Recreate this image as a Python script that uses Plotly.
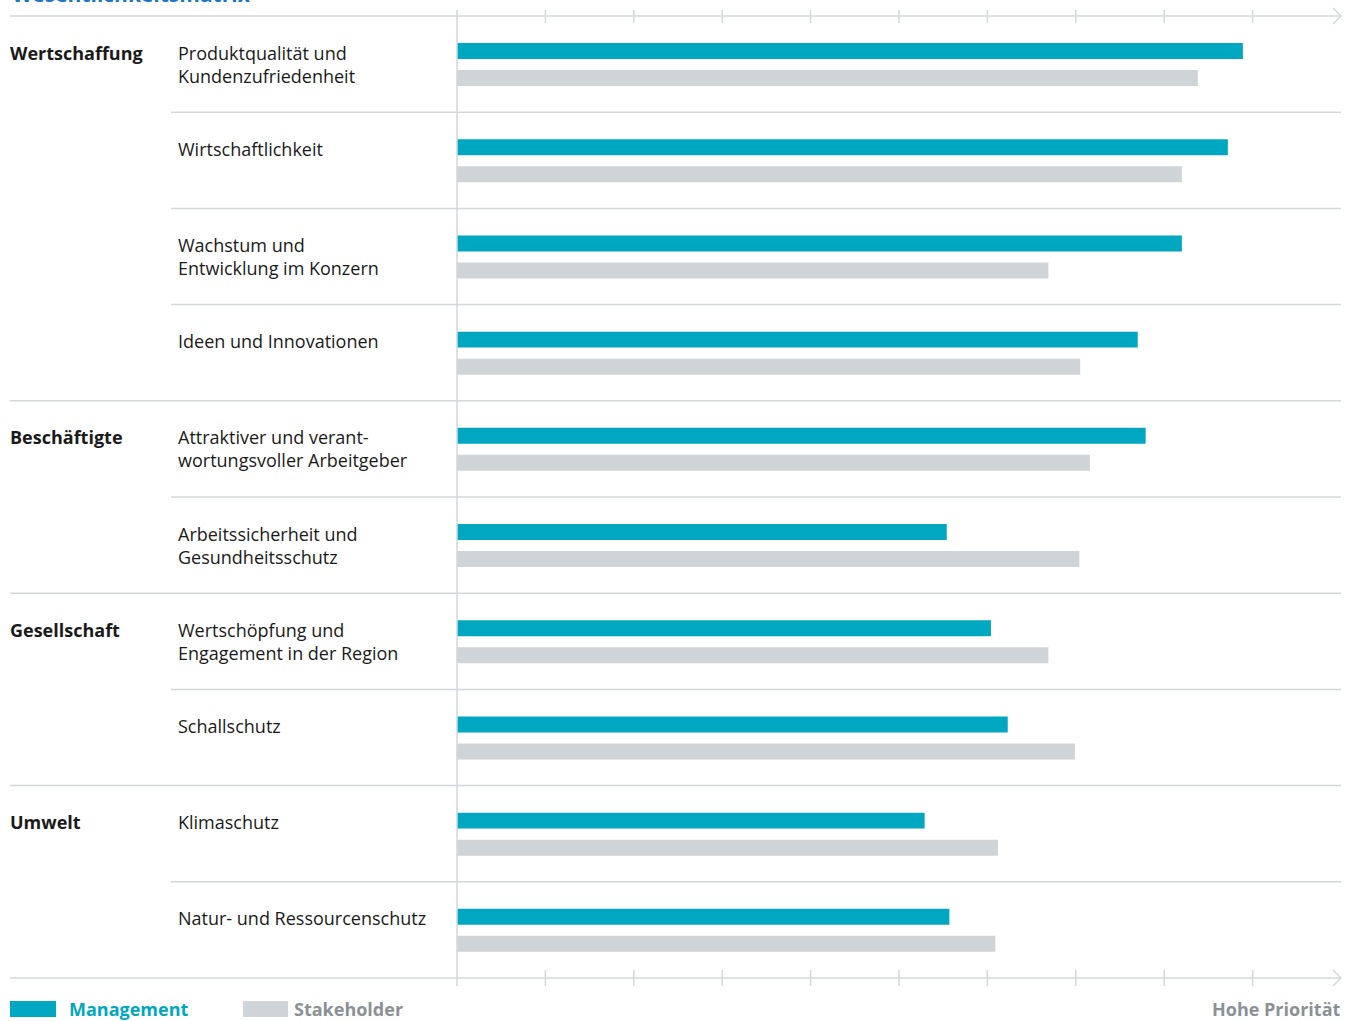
import plotly.graph_objects as go

# ---------------- data ----------------
groups = ["Wertschaffung", "Beschäftigte", "Gesellschaft", "Umwelt"]
group_start_rows = [0, 4, 6, 8]
topics = [
    "Produktqualität und<br>Kundenzufriedenheit",
    "Wirtschaftlichkeit",
    "Wachstum und<br>Entwicklung im Konzern",
    "Ideen und Innovationen",
    "Attraktiver und verant-<br>wortungsvoller Arbeitgeber",
    "Arbeitssicherheit und<br>Gesundheitsschutz",
    "Wertschöpfung und<br>Engagement in der Region",
    "Schallschutz",
    "Klimaschutz",
    "Natur- und Ressourcenschutz",
]
management = [8.89, 8.72, 8.20, 7.70, 7.79, 5.54, 6.04, 6.23, 5.29, 5.57]
stakeholder = [8.38, 8.20, 6.69, 7.05, 7.16, 7.04, 6.69, 6.99, 6.12, 6.09]
tick_values = [1, 2, 3, 4, 5, 6, 7, 8, 9]
title_text = "Wesentlichkeitsmatrix"
legend_labels = ["Management", "Stakeholder"]
axis_label = "Hohe Priorität"

# ---------------- style ----------------
TEAL = "#00a7c0"
GREY_BAR = "#cfd4d8"
LINE = "#d3d7db"
GREY_TXT = "#8a9196"
BLUE = "#1a76c8"
FONT = "Open Sans"

W, H = 1357, 1021
L, R, T, B = 457, 16, 16, 43
PW, PH = W - L - R, H - T - B
n = len(topics)


def px_x(px):
    return (px - L) / PW


def px_y(py):
    return 1 - (py - T) / PH


rows = list(range(n))
fig = go.Figure()
fig.add_trace(go.Bar(
    x=management, y=[r + 0.364 for r in rows], orientation="h",
    width=0.166, marker=dict(color=TEAL, line=dict(width=0)),
    name=legend_labels[0], showlegend=False, hoverinfo="x"))
fig.add_trace(go.Bar(
    x=stakeholder, y=[r + 0.645 for r in rows], orientation="h",
    width=0.166, marker=dict(color=GREY_BAR, line=dict(width=0)),
    name=legend_labels[1], showlegend=False, hoverinfo="x"))

shapes = []
# axis lines top & bottom
for ypx in (T, T + PH):
    shapes.append(dict(type="line", xref="paper", yref="paper",
                       x0=px_x(10), x1=px_x(1341), y0=px_y(ypx), y1=px_y(ypx),
                       line=dict(color=LINE, width=1.5)))
    # arrow chevron
    shapes.append(dict(type="path", xref="paper", yref="paper",
                       path=f"M {px_x(1333)} {px_y(ypx-8)} L {px_x(1341)} {px_y(ypx)} L {px_x(1333)} {px_y(ypx+8)}",
                       line=dict(color=LINE, width=1.5)))
# ticks
for tv in tick_values:
    shapes.append(dict(type="line", xref="x", yref="paper", x0=tv, x1=tv,
                       y0=px_y(T - 6), y1=px_y(T + 7),
                       line=dict(color=LINE, width=1.5)))
    shapes.append(dict(type="line", xref="x", yref="paper", x0=tv, x1=tv,
                       y0=px_y(T + PH - 8), y1=px_y(T + PH + 8),
                       line=dict(color=LINE, width=1.5)))
# vertical zero line
shapes.append(dict(type="line", xref="paper", yref="paper", x0=0, x1=0,
                   y0=px_y(10), y1=px_y(T + PH + 8),
                   line=dict(color=LINE, width=1.5)))
# row separators
for k in range(1, n):
    start = px_x(10) if k in group_start_rows else px_x(171)
    shapes.append(dict(type="line", xref="paper", yref="paper",
                       x0=start, x1=px_x(1341), y0=1 - k / n, y1=1 - k / n,
                       line=dict(color=LINE, width=1.5)))
# legend swatches
shapes.append(dict(type="rect", xref="paper", yref="paper",
                   x0=px_x(10), x1=px_x(56), y0=px_y(1001), y1=px_y(1017),
                   fillcolor=TEAL, line=dict(width=0)))
shapes.append(dict(type="rect", xref="paper", yref="paper",
                   x0=px_x(243), x1=px_x(288), y0=px_y(1001), y1=px_y(1017),
                   fillcolor=GREY_BAR, line=dict(width=0)))

annotations = []
for r, t in enumerate(topics):
    annotations.append(dict(xref="paper", yref="y", x=px_x(175.5), y=r + 22.5 / 96.2,
                            xanchor="left", yanchor="top", align="left",
                            text=t, showarrow=False,
                            font=dict(family=FONT, size=18, color="#1a1a1a")))
for g, s in zip(groups, group_start_rows):
    annotations.append(dict(xref="paper", yref="y", x=px_x(7.5), y=s + 22.5 / 96.2,
                            xanchor="left", yanchor="top", align="left",
                            text=f"<b>{g}</b>", showarrow=False,
                            font=dict(family=FONT, size=18, color="#1a1a1a")))
annotations.append(dict(xref="paper", yref="paper", x=px_x(67), y=px_y(1009),
                        xanchor="left", yanchor="middle", text=f"<b>{legend_labels[0]}</b>",
                        showarrow=False, font=dict(family=FONT, size=18, color=TEAL)))
annotations.append(dict(xref="paper", yref="paper", x=px_x(292), y=px_y(1009),
                        xanchor="left", yanchor="middle", text=f"<b>{legend_labels[1]}</b>",
                        showarrow=False, font=dict(family=FONT, size=18, color=GREY_TXT)))
annotations.append(dict(xref="paper", yref="paper", x=px_x(1342.5), y=px_y(1009),
                        xanchor="right", yanchor="middle", text=f"<b>{axis_label}</b>",
                        showarrow=False, font=dict(family=FONT, size=18, color=GREY_TXT)))
annotations.append(dict(xref="paper", yref="paper", x=px_x(10), y=px_y(10),
                        xanchor="left", yanchor="bottom", text=f"<b>{title_text}</b>",
                        showarrow=False, font=dict(family=FONT, size=21, color=BLUE)))

fig.update_layout(
    width=W, height=H,
    margin=dict(l=L, r=R, t=T, b=B, pad=0),
    paper_bgcolor="white", plot_bgcolor="white",
    xaxis=dict(range=[0, 10], visible=False, fixedrange=True),
    yaxis=dict(range=[n, 0], visible=False, fixedrange=True),
    barmode="overlay",
    shapes=shapes, annotations=annotations,
    showlegend=False,
    font=dict(family=FONT),
)

fig.write_html("out.html")
